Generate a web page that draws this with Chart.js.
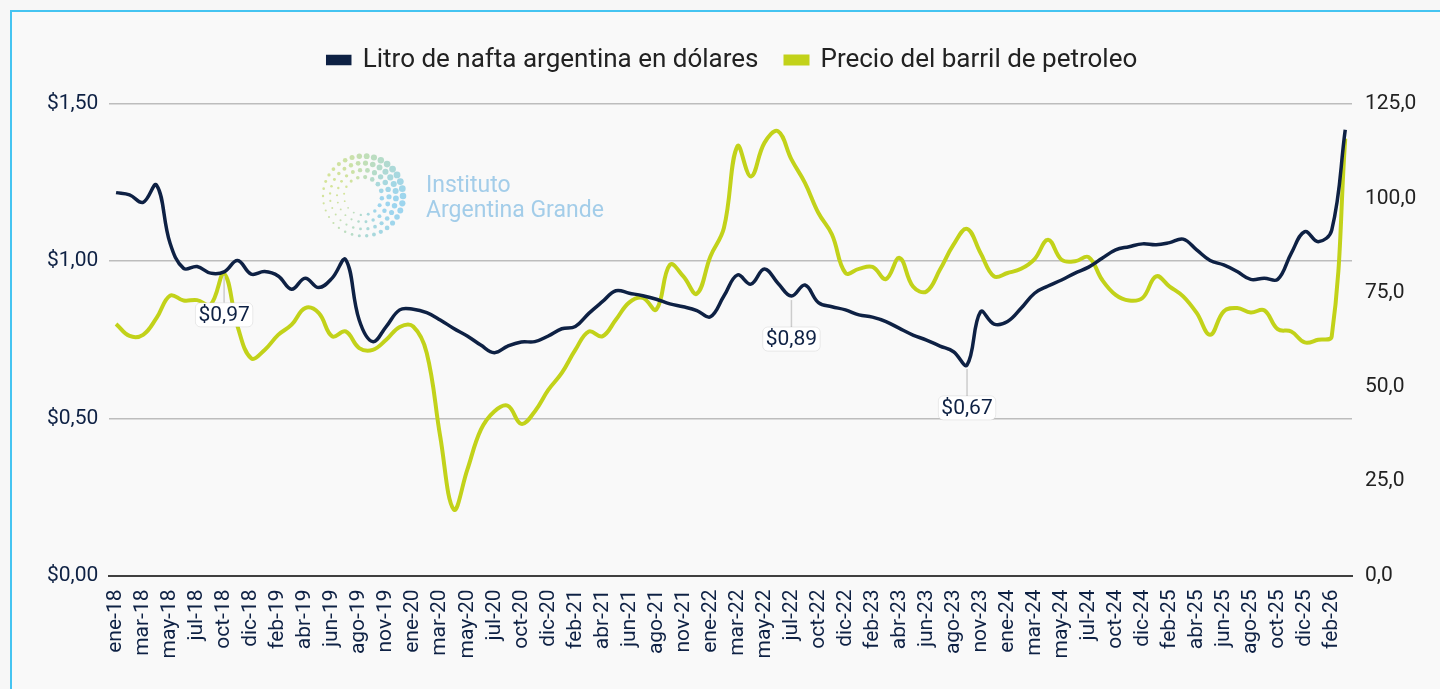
<!DOCTYPE html>
<html>
<head>
<meta charset="utf-8">
<script src="https://cdn.jsdelivr.net/npm/chart.js@4.4.1/dist/chart.umd.min.js"></script>
<style>
  html, body { margin: 0; padding: 0; background: #f7f7f7; overflow: hidden; }
  #marco { position: absolute; left: 10px; top: 10px; width: 1440px; height: 700px; border: 2px solid #45c4f1; background: #f9f9f9; }
  #contenedor { position: absolute; left: 0; top: 0; width: 1440px; height: 689px; }
</style>
</head>
<body>
<div id="marco"></div>
<div id="contenedor"><canvas id="grafico" width="1440" height="689"></canvas></div>
<script>
// meses (faltan algunos meses en la serie original)
const meses = ['ene-18','feb-18','mar-18','abr-18','may-18','jun-18','jul-18','ago-18','oct-18','nov-18','dic-18',
  'ene-19','feb-19','mar-19','abr-19','may-19','jun-19','jul-19','ago-19','sep-19','nov-19','dic-19',
  'ene-20','feb-20','mar-20','abr-20','may-20','jun-20','jul-20','ago-20','oct-20','nov-20','dic-20',
  'ene-21','feb-21','mar-21','abr-21','may-21','jun-21','jul-21','ago-21','sep-21','nov-21','dic-21',
  'ene-22','feb-22','mar-22','abr-22','may-22','jun-22','jul-22','ago-22','oct-22','nov-22','dic-22',
  'ene-23','feb-23','mar-23','abr-23','may-23','jun-23','jul-23','ago-23','sep-23','nov-23','dic-23',
  'ene-24','feb-24','mar-24','abr-24','may-24','jun-24','jul-24','ago-24','oct-24','nov-24','dic-24',
  'ene-25','feb-25','mar-25','abr-25','may-25','jun-25','jul-25','ago-25','sep-25','oct-25','nov-25','dic-25',
  'ene-26','feb-26','mar-26'];

// litro de nafta en dolares
const nafta = [1.218, 1.211, 1.187, 1.242, 1.057, 0.977, 0.983, 0.962, 0.966, 1.002,
  0.959, 0.967, 0.953, 0.911, 0.946, 0.916, 0.946, 1.005, 0.813, 0.744,
  0.792, 0.845, 0.847, 0.836, 0.813, 0.786, 0.762, 0.733, 0.709, 0.730,
  0.743, 0.744, 0.762, 0.785, 0.792, 0.834, 0.871, 0.906, 0.898, 0.890,
  0.879, 0.864, 0.855, 0.843, 0.823, 0.889, 0.956, 0.927, 0.975, 0.930,
  0.889, 0.924, 0.868, 0.855, 0.845, 0.829, 0.822, 0.808, 0.786, 0.765,
  0.749, 0.730, 0.712, 0.670, 0.839, 0.800, 0.808, 0.850, 0.898, 0.921,
  0.940, 0.962, 0.981, 1.009, 1.036, 1.046, 1.055, 1.052, 1.059, 1.070,
  1.036, 1.002, 0.988, 0.967, 0.942, 0.946, 0.942, 1.025, 1.094, 1.062,
  1.099, 1.418];

// barril de petroleo
const barril = [66.7, 63.5, 63.8, 68.3, 74.2, 72.9, 73.0, 71.8, 80.0, 66.0,
  57.6, 59.8, 63.8, 66.5, 70.9, 69.6, 63.4, 64.7, 60.3, 59.8,
  62.5, 65.9, 66.0, 59.0, 36.8, 17.5, 28.0, 38.6, 43.5, 45.0,
  40.2, 43.5, 49.2, 53.7, 59.8, 64.7, 63.4, 67.8, 72.4, 73.6,
  70.5, 82.4, 79.3, 74.7, 84.6, 92.1, 113.8, 105.8, 114.7, 117.8,
  110.3, 104.1, 96.1, 90.4, 80.2, 81.3, 81.8, 78.6, 84.2, 76.6,
  75.3, 81.1, 87.7, 91.9, 85.5, 79.3, 80.2, 81.3, 83.9, 89.0,
  83.7, 83.3, 84.4, 78.4, 74.4, 72.9, 73.6, 79.3, 76.6, 74.0,
  69.6, 63.8, 70.0, 70.9, 69.7, 70.3, 65.3, 64.7, 61.8, 62.5,
  63.4, 115.8];

// puntos con etiqueta
const indicesEtiqueta = [8, 50, 63];

const colorNafta = '#0e2144';
const colorBarril = '#c2d21a';
const fuente = 'Roboto, "Liberation Sans", sans-serif';

function pesos(v) { return '$' + v.toFixed(2).replace('.', ','); }

const ajusteLeyenda = {
  id: 'ajusteLeyenda',
  beforeInit(chart) {
    const fitOriginal = chart.legend.fit;
    chart.legend.fit = function () {
      fitOriginal.bind(chart.legend)();
      this.height = 84;
    };
  }
};

// logo de fondo
const logo = {
  id: 'logo',
  beforeDatasetsDraw(chart) {
    const ctx = chart.ctx;
    ctx.save();
    const cx = 363, cy = 196;
    const anillos = [40, 33, 26, 19];
    anillos.forEach((r, k) => {
      const n = Math.round(2 * Math.PI * r / 7.5);
      for (let j = 0; j < n; j++) {
        const a = j / n * 2 * Math.PI + k * 0.3;
        const s = 0.15 + 0.85 * (1 + Math.cos(a + Math.PI / 6)) / 2;
        const t = (1 + Math.cos(a - 0.35)) / 2;
        const rr = Math.round(200 - 75 * t), gg = Math.round(220 - 20 * t), bb = Math.round(120 + 115 * t);
        ctx.fillStyle = 'rgba(' + rr + ',' + gg + ',' + bb + ',0.75)';
        ctx.beginPath();
        ctx.arc(cx + r * Math.cos(a), cy + r * Math.sin(a), 0.6 + 2.8 * s * (1 - k * 0.12), 0, 2 * Math.PI);
        ctx.fill();
      }
    });
    ctx.fillStyle = '#a3cde9';
    ctx.font = '23px ' + fuente;
    ctx.textBaseline = 'alphabetic';
    ctx.fillText('Instituto', 426, 192);
    ctx.fillText('Argentina Grande', 426, 217);
    ctx.restore();
  }
};

const etiquetas = {
  id: 'etiquetas',
  afterDatasetsDraw(chart) {
    const ctx = chart.ctx;
    const meta = chart.getDatasetMeta(0);
    ctx.save();
    ctx.font = '21px ' + fuente;
    ctx.textAlign = 'center';
    ctx.textBaseline = 'middle';
    indicesEtiqueta.forEach(i => {
      const p = meta.data[i];
      const texto = pesos(nafta[i]);
      const w = ctx.measureText(texto).width;
      const yc = p.y + 43;
      ctx.strokeStyle = '#cccccc';
      ctx.lineWidth = 1.5;
      ctx.beginPath();
      ctx.moveTo(p.x, p.y + 4);
      ctx.lineTo(p.x, yc - 12);
      ctx.stroke();
      ctx.fillStyle = '#ffffff';
      ctx.strokeStyle = 'rgba(0,0,0,0.08)';
      ctx.lineWidth = 1;
      ctx.beginPath();
      ctx.roundRect(p.x - w / 2 - 3, yc - 12, w + 6, 24, 5);
      ctx.fill();
      ctx.stroke();
      ctx.fillStyle = colorNafta;
      ctx.fillText(texto, p.x, yc + 1);
    });
    ctx.restore();
  }
};

const ctx = document.getElementById('grafico');

new Chart(ctx, {
  type: 'line',
  data: {
    labels: meses,
    datasets: [{
      label: 'Litro de nafta argentina en dólares',
      data: nafta,
      borderColor: colorNafta,
      backgroundColor: colorNafta,
      borderWidth: 3.5,
      pointRadius: 0,
      tension: 0.4,
      yAxisID: 'y'
    }, {
      label: 'Precio del barril de petroleo',
      data: barril,
      borderColor: colorBarril,
      backgroundColor: colorBarril,
      borderWidth: 4,
      pointRadius: 0,
      tension: 0.4,
      yAxisID: 'y1'
    }]
  },
  options: {
    responsive: false,
    animation: false,
    layout: { padding: { left: 25, right: 0, top: 20, bottom: 0 } },
    plugins: {
      legend: {
        position: 'top',
        labels: {
          boxWidth: 22,
          boxHeight: 7,
          padding: 27,
          color: '#222222',
          font: { family: fuente, size: 26 }
        }
      },
      tooltip: { enabled: false }
    },
    scales: {
      x: {
        offset: true,
        grid: { display: false, drawTicks: false },
        border: { color: '#404040', width: 2 },
        ticks: {
          autoSkip: false,
          minRotation: 90,
          maxRotation: 90,
          padding: 14,
          color: colorNafta,
          font: { family: fuente, size: 21 },
          callback: (v, i) => i % 2 === 0 ? meses[i] : ''
        },
        afterFit: s => { s.height = 113.5; }
      },
      y: {
        position: 'left',
        min: 0,
        max: 1.5,
        grid: { color: '#bdbdbd', lineWidth: 1.5, drawTicks: false },
        border: { display: false },
        ticks: {
          stepSize: 0.5,
          padding: 11,
          color: colorNafta,
          font: { family: fuente, size: 21 },
          callback: v => pesos(v)
        },
        afterFit: s => { s.width = 84.3; }
      },
      y1: {
        position: 'right',
        min: 0,
        max: 125,
        grid: { display: false, drawTicks: false },
        border: { display: false },
        ticks: {
          stepSize: 25,
          padding: 13,
          color: '#222222',
          font: { family: fuente, size: 21 },
          callback: v => v.toFixed(1).replace('.', ',')
        },
        afterFit: s => { s.width = 88; }
      }
    }
  },
  plugins: [ajusteLeyenda, logo, etiquetas]
});
</script>
</body>
</html>
